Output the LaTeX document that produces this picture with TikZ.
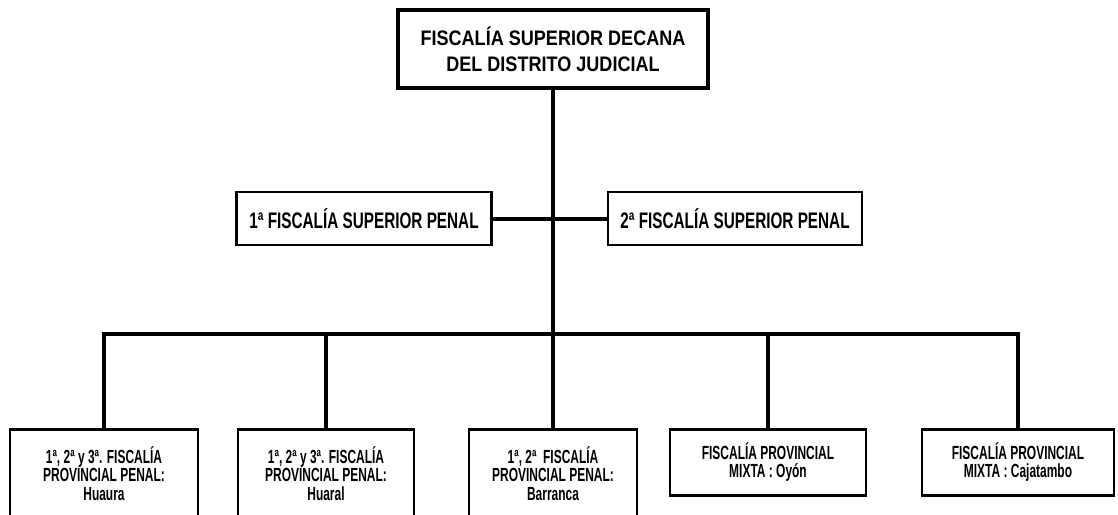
\documentclass[tikz,border=0pt]{standalone}
\usepackage{fontspec}
\setmainfont{Liberation Sans}
\newfontfamily\headfont{Liberation Sans}[FakeStretch=0.86]
\newfontfamily\boxfont{Liberation Sans}[FakeStretch=0.68]
\newfontfamily\lowfont{Liberation Sans}[FakeStretch=0.63]
\usepackage{tikz}
\usetikzlibrary{positioning}
\usetikzlibrary{calc}
\tikzstyle{headbox}=[rectangle,draw=black,line width=4pt,fill=white,align=center,minimum width=310pt,minimum height=78pt,inner sep=0pt,font=\headfont\bfseries\fontsize{21}{26}\selectfont]
\tikzstyle{midbox}=[rectangle,draw=black,line width=2.5pt,fill=white,align=center,minimum height=53pt,inner sep=0pt,font=\boxfont\bfseries\fontsize{22.5}{26}\selectfont]
\tikzstyle{lowbox}=[rectangle,draw=black,line width=2.5pt,fill=white,align=center,anchor=north,inner sep=0pt,font=\lowfont\bfseries\fontsize{19}{18.5}\selectfont]
\tikzstyle{conn} = [draw,line width=4pt]

\begin{document}
\begin{tikzpicture}[x=1pt,y=-1pt]

  \clip (0,0) rectangle (1118,514);
  \def\top{428}

  \node[headbox] (top) at (553,49) {FISCALÍA SUPERIOR DECANA\\DEL DISTRITO JUDICIAL};

  \foreach \x/\w/\name/\label in {364/255/ml/{1ª FISCALÍA SUPERIOR PENAL}, 735/254/mr/{2ª FISCALÍA SUPERIOR PENAL}}
          \node[midbox, minimum width=\w] (\name) at (\x, 218.5) {\label};

  % penal offices, cut at the foot of the page
  \foreach \x/\w/\name/\label in {104/188/b1/{1ª, 2ª y 3ª. FISCALÍA\\PROVINCIAL PENAL:\\Huaura}, 326/176/b2/{1ª, 2ª y 3ª. FISCALÍA\\PROVINCIAL PENAL:\\Huaral}, 553/168/b3/{1ª, 2ª~~FISCALÍA\\PROVINCIAL PENAL:\\Barranca}}
          \node[lowbox, minimum width=\w, minimum height=88] (\name) at (\x, \top) {\label};

  % mixed offices
  \foreach \x/\w/\name/\label in {768/196/b4/{FISCALÍA PROVINCIAL\\MIXTA : Oyón}, 1018/192/b5/{FISCALÍA PROVINCIAL\\MIXTA : Cajatambo}}
          \node[lowbox, minimum width=\w, minimum height=66] (\name) at (\x, \top) {\label};

  \coordinate (bus) at (553,334);

  \path[conn] (top.south) -- (b3.north);
  \path[conn] (ml) -- (mr);
  \path[conn] (b1.north) |- (bus) -| (b5.north);
  \foreach \n in {b2,b4}
         \path[conn] (\n.north) -- (\n.north |- bus);

\end{tikzpicture}
\end{document}
